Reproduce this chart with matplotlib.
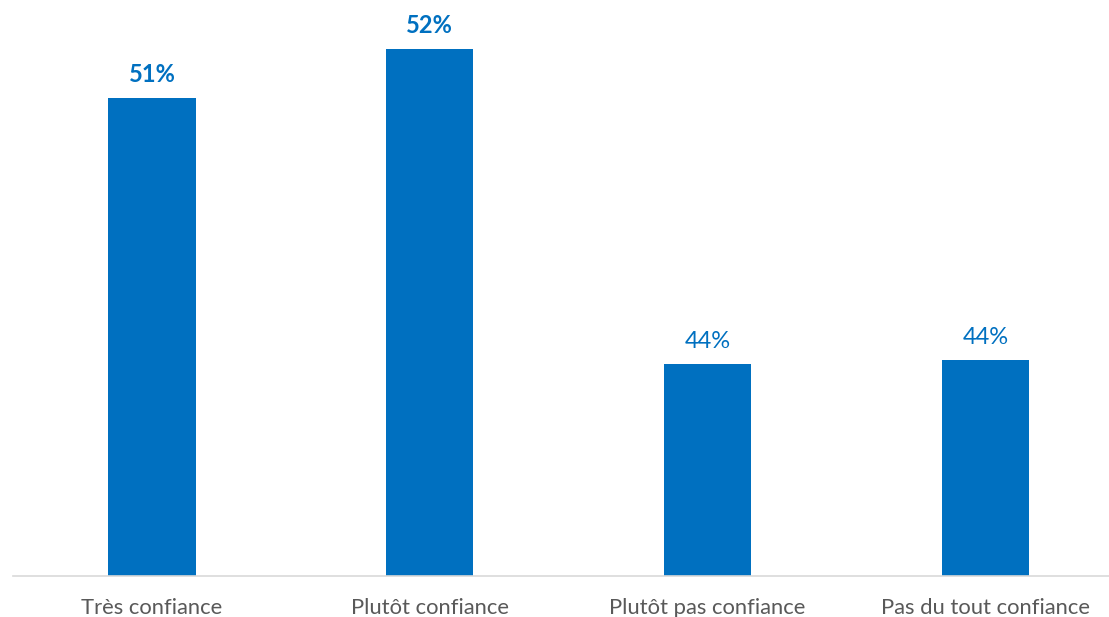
import matplotlib
matplotlib.use("Agg")
import matplotlib.pyplot as plt

categories = ["Très confiance", "Plutôt confiance", "Plutôt pas confiance", "Pas du tout confiance"]
values = [51.0, 52.3, 43.95, 44.05]
bold_labels = [True, True, False, False]

BLUE = "#0070C0"
plt.rcParams["font.family"] = ["Lato", "DejaVu Sans"]

fig = plt.figure(figsize=(11.09, 6.17), dpi=100)
ax = fig.add_axes([13 / 1109, 41 / 617, 1 - 13 / 1109, 1 - 41 / 617])

x = range(len(categories))
bars = ax.bar(x, values, width=0.314, color=BLUE, zorder=2)

ax.set_xlim(-0.5, 3.445)
ax.set_ylim(38.33, 53.61)

for xi, v, b in zip(x, values, bold_labels):
    ax.annotate(f"{v:.0f}%", (xi, v), xytext=(0, 9), textcoords="offset points",
                ha="center", va="bottom", color=BLUE, fontsize=17,
                fontweight="bold" if b else "normal")

ax.set_xticks(list(x))
ax.set_xticklabels(categories, fontsize=15.8, color="#595959")
ax.tick_params(axis="x", length=0, pad=16)
ax.set_yticks([])
for side in ["top", "right", "left"]:
    ax.spines[side].set_visible(False)
ax.spines["bottom"].set_color("#D9D9D9")
ax.spines["bottom"].set_linewidth(1.2)

fig.savefig("out.png", dpi=100)
